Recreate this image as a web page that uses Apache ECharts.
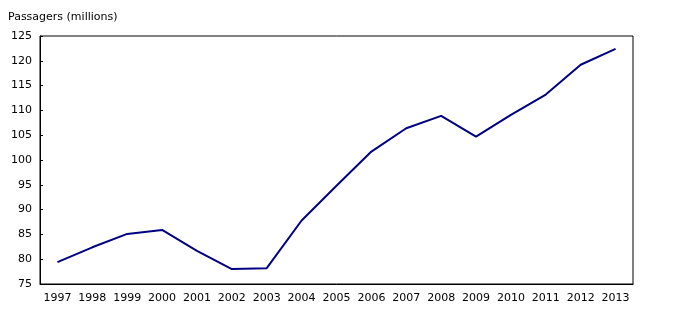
<!DOCTYPE html>
<html>
<head>
<meta charset="utf-8">
<script src="https://cdn.jsdelivr.net/npm/echarts@6/dist/echarts.min.js"></script>
<style>
  html, body { margin: 0; padding: 0; background: #fff; }
  #main { width: 683px; height: 321px; }
</style>
</head>
<body>
<div id="main"></div>
<script>
// 年份
const years = ['1997', '1998', '1999', '2000', '2001', '2002', '2003', '2004', '2005',
  '2006', '2007', '2008', '2009', '2010', '2011', '2012', '2013'];
// 乘客数（百万）
const passengers = [79.4, 82.4, 85.1, 85.9, 81.7, 78.0, 78.2, 87.8, 94.8,
  101.7, 106.4, 108.9, 104.7, 109.1, 113.2, 119.2, 122.4];
const yTitle = 'Passagers (millions)';

const chart = echarts.init(document.getElementById('main'), null, { renderer: 'canvas' });
const font = 'DejaVu Sans';

chart.setOption({
  animation: false,
  title: {
    text: yTitle,
    left: 3,
    top: 7,
    textStyle: { fontFamily: font, fontSize: 11, fontWeight: 'normal', color: '#000' }
  },
  grid: {
    left: 40,
    right: 50,
    top: 36,
    bottom: 37,
    show: true,
    borderColor: '#000',
    borderWidth: 1
  },
  xAxis: {
    type: 'category',
    data: years,
    boundaryGap: true,
    axisLine: { lineStyle: { color: '#000', width: 1 } },
    axisTick: { inside: true, length: 4, lineStyle: { color: '#000' } },
    axisLabel: { fontFamily: font, fontSize: 11, color: '#000', margin: 9, interval: 0 },
    splitLine: { show: false }
  },
  yAxis: {
    type: 'value',
    min: 75,
    max: 125,
    interval: 5,
    axisLine: { show: true, lineStyle: { color: '#000', width: 1 } },
    axisTick: { show: true, inside: true, length: 3, lineStyle: { color: '#000' } },
    axisLabel: { fontFamily: font, fontSize: 11, color: '#000', margin: 8 },
    splitLine: { show: false }
  },
  series: [{
    type: 'line',
    data: passengers,
    symbol: 'none',
    lineStyle: { color: '#000080', width: 2 }
  }]
});
</script>
</body>
</html>
